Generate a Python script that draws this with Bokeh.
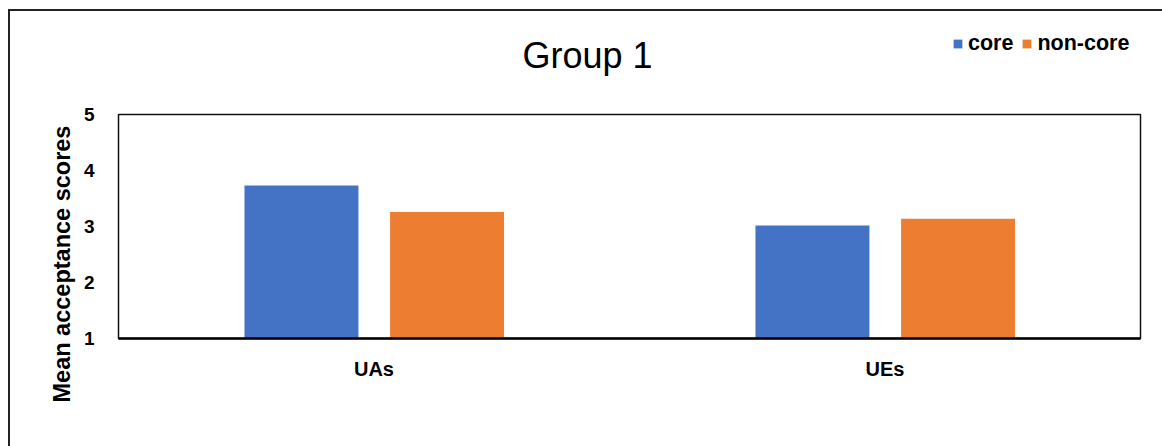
from bokeh.embed import file_html
from bokeh.layouts import column
from bokeh.models import ColumnDataSource, FactorRange, Label, Legend, LegendItem, Title
from bokeh.plotting import figure
from bokeh.resources import INLINE
from bokeh.transform import dodge

# Mean acceptance scores, Group 1
categories = ["UAs", "UEs"]
core = [3.73, 3.02]
non_core = [3.26, 3.14]
y_ticks = [1, 2, 3, 4, 5]

BLUE = "#4472C4"
ORANGE = "#ED7D31"
FONT = "Liberation Sans"

W = 1152
TOP_H = 85
BOTTOM_H = 350

source = ColumnDataSource(dict(cat=categories, core=core, non_core=non_core))

# ---- header strip: title and legend (frame aligned with the chart frame) ----
head = figure(
    width=W, height=TOP_H, x_range=(0, 1), y_range=(0, 1),
    output_backend="svg", toolbar_location=None,
    x_axis_location=None, y_axis_location=None,
    min_border=0,
)
head.outline_line_color = None
head.grid.visible = False

head.add_layout(Label(
    x=469, y=41, x_units="screen", y_units="screen",
    text="Group 1", text_align="center", text_baseline="middle",
    text_font=FONT, text_font_size="36px", text_color="#000",
))

# key swatches: hidden renderers that only lend their colours to the legend
key_core = head.vbar(x=0.5, bottom="core", top="core", width=0.1, source=source,
                     fill_color=BLUE, line_color=None, visible=False)
key_non = head.vbar(x=0.5, bottom="non_core", top="non_core", width=0.1, source=source,
                    fill_color=ORANGE, line_color=None, visible=False)
legend = Legend(
    items=[LegendItem(label="core", renderers=[key_core], index=0),
           LegendItem(label="non-core", renderers=[key_non], index=0)],
    orientation="horizontal",
    location=(834, 40),
    glyph_width=11, glyph_height=11,
    label_standoff=5, spacing=8, padding=0, margin=0,
    label_text_font=FONT, label_text_font_style="bold",
    label_text_font_size="21.5px", label_height=20, label_text_color="#000",
    border_line_color=None, background_fill_alpha=0,
)
head.add_layout(legend, "center")

# ---- bar chart ----
p = figure(
    x_range=FactorRange(*categories),
    y_range=(1, 5),
    width=W,
    height=BOTTOM_H,
    output_backend="svg",
    toolbar_location=None,
    min_border_left=108,
    min_border_right=22,
    min_border_top=18,
    min_border_bottom=108,
)

bar_w = 0.223
p.vbar(x=dodge("cat", -0.142, range=p.x_range), top="core", bottom=1,
       width=bar_w, source=source, fill_color=BLUE, line_color=None)
p.vbar(x=dodge("cat", 0.143, range=p.x_range), top="non_core", bottom=1,
       width=bar_w, source=source, fill_color=ORANGE, line_color=None)

p.outline_line_color = "#111"
p.outline_line_width = 1.5
p.xgrid.grid_line_color = None
p.ygrid.grid_line_color = None

p.yaxis.ticker = y_ticks
p.yaxis.axis_line_color = None
p.yaxis.major_tick_line_color = None
p.yaxis.minor_tick_line_color = None
p.yaxis.major_label_standoff = 18
p.yaxis.major_label_text_font = FONT
p.yaxis.major_label_text_font_style = "bold"
p.yaxis.major_label_text_font_size = "19px"
p.yaxis.major_label_text_color = "#000"

p.xaxis.axis_line_color = "#000"
p.xaxis.axis_line_width = 2.5
p.xaxis.major_tick_line_color = None
p.xaxis.minor_tick_line_color = None
p.xaxis.major_label_standoff = 13
p.xaxis.major_label_text_font = FONT
p.xaxis.major_label_text_font_style = "bold"
p.xaxis.major_label_text_font_size = "20px"
p.xaxis.major_label_text_color = "#000"

# y-axis title, set a little below the middle of the axis
p.add_layout(Title(
    text="Mean acceptance scores", align="left", offset=-64, standoff=12,
    text_font=FONT, text_font_style="bold", text_font_size="23.5px",
    text_color="#000",
), "left")

page = column(head, p, margin=(9, 0, 0, 8), spacing=0,
              styles={"border-top": "2px solid #222", "border-left": "2px solid #222"})

open("out.html", "w").write(file_html(page, INLINE))
